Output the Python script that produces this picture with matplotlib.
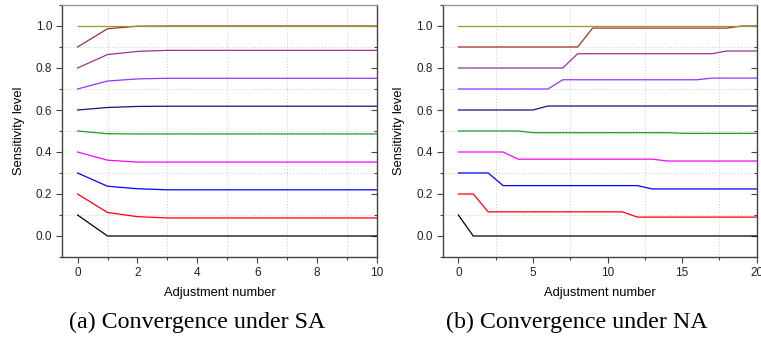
import matplotlib
matplotlib.use("Agg")
import matplotlib.pyplot as plt
from matplotlib.ticker import MultipleLocator

# ---- data ----
sa_x = list(range(0, 11))
sa_black   = [0.10, 0.0, 0.0, 0.0, 0.0, 0.0, 0.0, 0.0, 0.0, 0.0, 0.0]
sa_red     = [0.20, 0.112, 0.092, 0.086, 0.086, 0.086, 0.086, 0.086, 0.086, 0.086, 0.086]
sa_blue    = [0.30, 0.237, 0.225, 0.220, 0.220, 0.220, 0.220, 0.220, 0.220, 0.220, 0.220]
sa_magenta = [0.40, 0.361, 0.352, 0.352, 0.352, 0.352, 0.352, 0.352, 0.352, 0.352, 0.352]
sa_green   = [0.50, 0.487, 0.486, 0.486, 0.486, 0.486, 0.486, 0.486, 0.486, 0.486, 0.486]
sa_navy    = [0.60, 0.612, 0.617, 0.618, 0.618, 0.618, 0.618, 0.618, 0.618, 0.618, 0.618]
sa_violet  = [0.70, 0.738, 0.748, 0.751, 0.751, 0.751, 0.751, 0.751, 0.751, 0.751, 0.751]
sa_purple  = [0.80, 0.864, 0.879, 0.884, 0.884, 0.884, 0.884, 0.884, 0.884, 0.884, 0.884]
sa_wine    = [0.90, 0.987, 0.999, 1.0, 1.0, 1.0, 1.0, 1.0, 1.0, 1.0, 1.0]
sa_olive   = [1.0] * 11

na_x = list(range(0, 21))
na_black   = [0.10] + [0.0] * 20
na_red     = [0.20, 0.20] + [0.115] * 10 + [0.090] * 9
na_blue    = [0.30, 0.30, 0.30] + [0.240] * 10 + [0.224] * 8
na_magenta = [0.40] * 4 + [0.366] * 10 + [0.357] * 7
na_green   = [0.50] * 5 + [0.492] * 10 + [0.489] * 6
na_navy    = [0.60] * 6 + [0.619] * 15
na_violet  = [0.70] * 7 + [0.744] * 10 + [0.752] * 4
na_purple  = [0.80] * 8 + [0.868] * 10 + [0.881] * 3
na_wine    = [0.90] * 9 + [0.990] * 10 + [1.0] * 2
na_olive   = [1.0] * 21

colors = ['#000000', '#ff0000', '#0000ff', '#ff00ff', '#229922',
          '#14147a', '#9933ff', '#993399', '#993333', '#999922']

sa_series = [sa_black, sa_red, sa_blue, sa_magenta, sa_green,
             sa_navy, sa_violet, sa_purple, sa_wine, sa_olive]
na_series = [na_black, na_red, na_blue, na_magenta, na_green,
             na_navy, na_violet, na_purple, na_wine, na_olive]

yticks = [0.0, 0.2, 0.4, 0.6, 0.8, 1.0]
ytick_labels = ['0.0', '0.2', '0.4', '0.6', '0.8', '1.0']

plt.rcParams['font.family'] = ['Liberation Sans', 'DejaVu Sans']

fig = plt.figure(figsize=(7.61, 3.40), dpi=100)
W, H = 761, 340

def make_axes(left, right):
    return fig.add_axes([left / W, 1 - 257 / H, (right - left) / W, (257 - 5) / H])

axA = make_axes(62, 377)
axB = make_axes(442.7, 756.7)

spine_col = '#444444'

def style(ax, xlim, xmajor, xminor):
    ax.set_xlim(*xlim)
    ax.set_ylim(-0.1, 1.1)
    ax.set_yticks(yticks)
    ax.set_yticklabels(ytick_labels)
    ax.xaxis.set_major_locator(MultipleLocator(xmajor))
    ax.xaxis.set_minor_locator(MultipleLocator(xminor))
    ax.yaxis.set_minor_locator(MultipleLocator(0.1))
    ax.grid(which='minor', linestyle=(0, (1, 2)), color='#cccccc', linewidth=0.7)
    ax.grid(which='major', visible=False)
    ax.set_axisbelow(True)
    for s in ['left', 'bottom', 'right']:
        ax.spines[s].set_color(spine_col)
        ax.spines[s].set_linewidth(1.0)
    ax.spines['top'].set_color('#999999')
    ax.spines['top'].set_linewidth(1.0)
    ax.tick_params(axis='both', which='major', labelsize=8.5, colors=spine_col,
                   labelcolor='#222222', direction='out', length=4, width=0.8, pad=3)
    ax.tick_params(axis='both', which='minor', direction='out', length=2.5,
                   width=0.8, colors=spine_col)
    ax.tick_params(axis='y', which='both', right=True, left=True)
    ax.tick_params(axis='x', which='both', top=False, bottom=True)
    ax.set_xlabel('Adjustment number', fontsize=9.3, labelpad=6)
    ax.set_ylabel('Sensitivity level', fontsize=9.3, labelpad=8)

def plot_panel(ax, x, series):
    for ys, c in zip(series, colors):
        ax.plot(x, ys, color=c, linewidth=0.9, solid_joinstyle='miter')

plot_panel(axA, sa_x, sa_series)
plot_panel(axB, na_x, na_series)
style(axA, (-0.52, 10), 2, 1)
style(axB, (-1.05, 20), 5, 2.5)
# right-side ticks point inward
for ax in (axA, axB):
    for t in ax.yaxis.get_major_ticks() + ax.yaxis.get_minor_ticks():
        t.tick2line.set_marker(matplotlib.lines.TICKLEFT)

fig.text(197 / W, 1 - 322 / H, '(a) Convergence under SA', ha='center', va='center',
         fontsize=17.3, family=['Liberation Serif', 'DejaVu Serif'])
fig.text(577 / W, 1 - 322 / H, '(b) Convergence under NA', ha='center', va='center',
         fontsize=17.3, family=['Liberation Serif', 'DejaVu Serif'])

fig.savefig('out.png', dpi=100)
